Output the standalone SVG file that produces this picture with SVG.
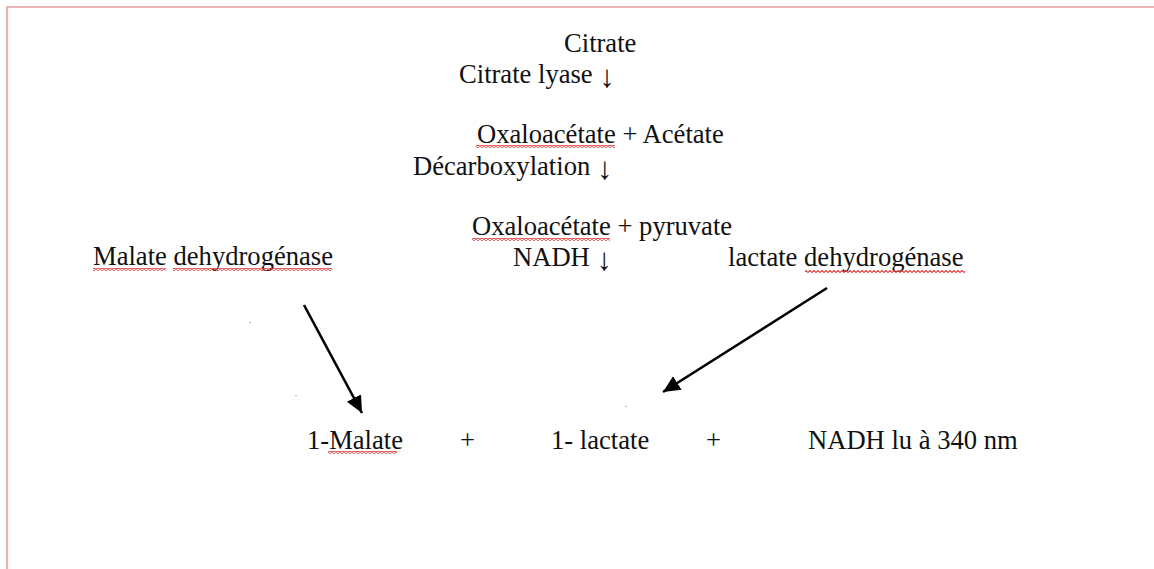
<svg xmlns="http://www.w3.org/2000/svg" width="1154" height="569" viewBox="0 0 1154 569">
<style>
  .t { font-family: "Liberation Serif", "Times New Roman", serif; font-size: 26.6px; fill: #111; }
  .ar { font-size: 31px; }
  .conn { stroke: #000; stroke-width: 2.6; fill: none; marker-end: url(#ah); }
  .sq { fill: url(#wave); }
  .speck { fill: #b8b8b8; }
</style>
<defs>
  <marker id="ah" markerUnits="userSpaceOnUse" markerWidth="20" markerHeight="18" refX="17" refY="8" orient="auto">
    <path d="M0,0 L17,8 L0,16 Z" fill="#000"/>
  </marker>
  <pattern id="wave" patternUnits="userSpaceOnUse" width="4" height="3">
    <path d="M0,2.5 L2,0.5 L4,2.5" stroke="#e23c3c" stroke-width="1.1" fill="none"/>
  </pattern>
</defs>
<rect width="1154" height="569" fill="#fff"/>
<g id="frame">
  <line x1="6" y1="7" x2="1154" y2="7" stroke="#ebb4b4" stroke-width="2.2"/>
  <line x1="7" y1="6" x2="7" y2="569" stroke="#ebb4b4" stroke-width="2.2"/>
</g>
<g id="citrate"><text class="t" x="564" y="52">Citrate</text></g>
<g id="citrate-lyase"><text class="t" x="459" y="83">Citrate lyase <tspan class="ar" dy="4">↓</tspan></text></g>
<g id="oxalo-acetate">
  <text class="t" x="477" y="143">Oxaloacétate + Acétate</text>
  <rect class="sq" x="476" y="145" width="139" height="3"/>
</g>
<g id="decarboxylation"><text class="t" x="413" y="175">Décarboxylation <tspan class="ar" dy="4">↓</tspan></text></g>
<g id="oxalo-pyruvate">
  <text class="t" x="472" y="235">Oxaloacétate + pyruvate</text>
  <rect class="sq" x="472" y="238" width="138" height="3"/>
</g>
<g id="malate-dh">
  <text class="t" x="93" y="265">Malate dehydrogénase</text>
  <rect class="sq" x="93" y="268" width="73" height="3"/>
  <rect class="sq" x="173" y="268" width="159" height="3"/>
</g>
<g id="nadh"><text class="t" x="513" y="266">NADH <tspan class="ar" dy="4">↓</tspan></text></g>
<g id="lactate-dh">
  <text class="t" x="728" y="266">lactate dehydrogénase</text>
  <rect class="sq" x="805" y="270" width="160" height="3"/>
</g>
<g id="malate">
  <text class="t" x="307" y="449">1-Malate</text>
  <rect class="sq" x="328" y="451" width="69" height="3"/>
</g>
<g id="plus1"><text class="t" x="460" y="449">+</text></g>
<g id="lactate"><text class="t" x="551" y="449">1- lactate</text></g>
<g id="plus2"><text class="t" x="706" y="449">+</text></g>
<g id="nadh-340"><text class="t" x="808" y="449">NADH lu à 340 nm</text></g>
<g id="connectors">
  <line class="conn" x1="304" y1="305" x2="362" y2="413"/>
  <line class="conn" x1="827" y1="288" x2="663" y2="392"/>
</g>
<g id="specks">
  <rect class="speck" x="249" y="322" width="2" height="1"/>
  <rect class="speck" x="295" y="395" width="2" height="1"/>
  <rect class="speck" x="625" y="406" width="2" height="1"/>
</g>
</svg>
